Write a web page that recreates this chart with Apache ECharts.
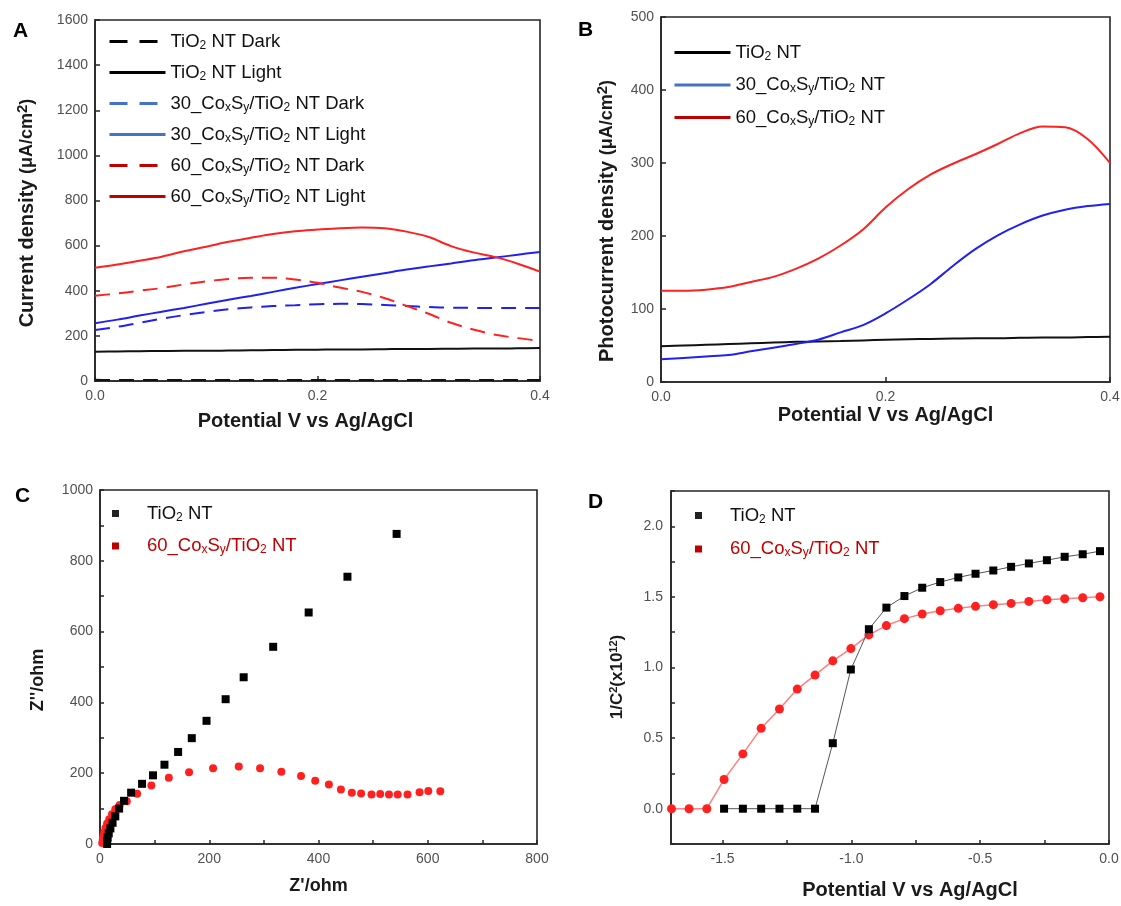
<!DOCTYPE html>
<html><head><meta charset="utf-8">
<script src="https://cdn.jsdelivr.net/npm/echarts@6/dist/echarts.min.js"></script>
<style>html,body{margin:0;padding:0;background:#fff}#c{width:1121px;height:906px}</style>
</head><body><div id="c"></div>
<script>
// ---------- Panel A : current density (dark / light) ----------
const potentialA = [0,0.02,0.04,0.06,0.08,0.10,0.12,0.14,0.16,0.18,0.20,0.22,0.24,0.26,0.28,0.30,0.32,0.34,0.36,0.38,0.40];
const tio2DarkA  = [6,4,4,4,4,4,4,4,4,4,4,4,4,4,4,4,4,4,4,4,4];
const tio2LightA = [130,131,132,133,134,134,135,136,137,138,139,140,140,141,142,142,143,144,144,145,146];
const co30DarkA  = [226,240,258,276,292,306,318,326,332,336,340,342,341,337,332,328,325,324,323,323,323];
const co30LightA = [256,272,290,307,324,342,360,377,395,413,430,446,462,478,494,508,521,535,547,560,572];
const co60DarkA  = [378,388,400,412,428,442,452,458,458,450,435,414,395,368,333,298,258,228,205,190,178];
const co60LightA = [502,516,533,551,575,595,617,635,652,664,671,677,680,677,662,638,598,570,549,520,485];
const xTicksA = [0,0.2,0.4];
const yTicksA = [0,200,400,600,800,1000,1200,1400,1600];

// ---------- Panel B : photocurrent density ----------
const potentialB = [0,0.02,0.04,0.06,0.08,0.10,0.12,0.14,0.16,0.18,0.20,0.22,0.24,0.26,0.28,0.30,0.32,0.34,0.36,0.38,0.40];
const tio2B = [49,50,51,52,53,54,55,55.5,56,57,58,58.5,59,59.5,60,60,60.5,61,61,61.5,62];
const co30B = [31,33,35,37,42,47,52,58,68,78,94,113,134,159,182,201,216,228,236,241,244];
const co60B = [125,125,126.5,130,137,144,155,169,187,209,239,264,284,299,312,326,341,350,349,333,300];
const xTicksB = [0,0.2,0.4];
const yTicksB = [0,100,200,300,400,500];

// ---------- Panel C : Nyquist ----------
const tio2ZreC = [13,13,14,16,19,23,28,35,44,57,77,97,118,143,168,195,230,263,317,382,453,543];
const tio2ZimC = [0,8,18,30,44,60,78,100,122,145,170,194,224,260,299,348,409,471,557,654,755,876];
const co60ZreC = [4,5,6,8,10,13,17,22,28,36,49,68,94,126,163,207,254,293,332,368,394,419,441,461,478,497,513,529,545,563,585,601,623];
const co60ZimC = [3,12,22,33,45,58,70,84,98,110,121,142,165,187,203,214,219,214,204,192,179,168,154,145,143,140,141,140,140,140,146,150,149];
const xTicksC = [0,100,200,300,400,500,600,700,800];
const xLabelsC = [0,200,400,600,800];
const yTicksC = [0,100,200,300,400,500,600,700,800,900,1000];
const yLabelsC = [0,200,400,600,800,1000];

// ---------- Panel D : Mott-Schottky ----------
const potentialD_tio2 = [-1.494,-1.421,-1.350,-1.279,-1.210,-1.141,-1.072,-1.002,-0.932,-0.864,-0.794,-0.725,-0.655,-0.585,-0.518,-0.449,-0.380,-0.311,-0.241,-0.172,-0.102,-0.035];
const tio2D = [0,0,0,0,0,0,0.464,0.986,1.271,1.424,1.506,1.565,1.605,1.638,1.664,1.687,1.713,1.737,1.760,1.784,1.802,1.824];
const potentialD_co60 = [-1.698,-1.630,-1.561,-1.494,-1.421,-1.350,-1.279,-1.210,-1.141,-1.072,-1.002,-0.932,-0.864,-0.794,-0.725,-0.655,-0.585,-0.518,-0.449,-0.380,-0.311,-0.241,-0.172,-0.102,-0.035];
const co60D = [0,0,0,0.207,0.388,0.569,0.706,0.847,0.946,1.047,1.134,1.231,1.297,1.346,1.379,1.402,1.419,1.433,1.445,1.454,1.468,1.480,1.487,1.494,1.501];
const xTicksD = [-1.5,-1.25,-1.0,-0.75,-0.5,-0.25,0];
const xLabelsD = [-1.5,-1.0,-0.5,0];
const yTicksD = [-0.25,0,0.25,0.5,0.75,1.0,1.25,1.5,1.75,2.0,2.25];
const yLabelsD = [0,0.5,1.0,1.5,2.0];

// ---------- helpers ----------
const F = "'Liberation Sans', Arial, Helvetica, sans-serif";
const pairs = (xs, ys) => xs.map((x, i) => [x, ys[i]]);
const BLACK = '#111', BLUE = '#2020f2', RED = '#ff2020';
const FRAME = '#262626';

function richName(name) {
  const base = name.split('#')[0];
  return '{n|' + base.replace(/TiO2/g, 'TiO}{s|2}{n|').replace(/CoxSy/g, 'Co}{s|x}{n|S}{s|y}{n|') + '}';
}
function richNameSp(name) { return '{sp| }' + richName(name); }
const legendRich = {
  n: { fontSize: 18.5, fontFamily: F },
  s: { fontSize: 12, fontFamily: F, padding: [8, 0, 0, 0] },
  sp: { fontSize: 18, fontFamily: F, width: 23 }
};

const grids = [
  { left: 95, top: 20, width: 445, height: 361 },
  { left: 661, top: 17, width: 449, height: 365 },
  { left: 100, top: 490, width: 437, height: 354 },
  { left: 671, top: 491, width: 438, height: 353 }
].map(g => Object.assign(g, { show: true, borderColor: FRAME, borderWidth: 1.6, containLabel: false, outerBoundsMode: 'none' }));

function axisBase(extra) {
  return Object.assign({
    type: 'value',
    splitLine: { show: false },
    axisLine: { show: true, onZero: false, lineStyle: { color: FRAME, width: 1.6 } },
    nameTextStyle: { fontFamily: F, fontSize: 20, fontWeight: 'bold', color: '#1a1a1a' },
    nameLocation: 'middle'
  }, extra);
}
function ticks(vals, len) {
  return { show: true, inside: true, length: len || 5, customValues: vals, lineStyle: { color: FRAME, width: 1.5 } };
}
function labels(vals, formatter, margin) {
  return { fontFamily: F, fontSize: 14, color: '#505050', margin: margin || 8, customValues: vals, formatter: formatter };
}
const fmt1 = v => Number(v).toFixed(1);
const fmt0 = v => String(Math.round(v));

const xAxes = [
  axisBase({ gridIndex: 0, min: 0, max: 0.4, interval: 0.2, axisTick: ticks(xTicksA), axisLabel: labels(xTicksA, fmt1),
    name: 'Potential V vs Ag/AgCl', nameGap: 30,
    nameTextStyle: { fontFamily: F, fontSize: 20, fontWeight: 'bold', color: '#1a1a1a', padding: [0, 24, 0, 0] } }),
  axisBase({ gridIndex: 1, min: 0, max: 0.4, interval: 0.2, axisTick: ticks(xTicksB), axisLabel: labels(xTicksB, fmt1),
    name: 'Potential V vs Ag/AgCl', nameGap: 23 }),
  axisBase({ gridIndex: 2, min: 0, max: 800, interval: 100, axisTick: ticks(xTicksC, 4), axisLabel: labels(xLabelsC, fmt0),
    name: "Z'/ohm", nameGap: 33,
    nameTextStyle: { fontFamily: F, fontSize: 18, fontWeight: 'bold', color: '#1a1a1a' } }),
  axisBase({ gridIndex: 3, min: -1.7, max: 0, axisTick: ticks(xTicksD, 4), axisLabel: labels(xLabelsD, fmt1),
    name: 'Potential V vs Ag/AgCl', nameGap: 36,
    nameTextStyle: { fontFamily: F, fontSize: 20, fontWeight: 'bold', color: '#1a1a1a', padding: [0, 0, 0, 40] } })
];

const unitRich = {
  b: { fontFamily: F, fontSize: 20, fontWeight: 'bold', color: '#1a1a1a' },
  u: { fontFamily: F, fontSize: 18, fontWeight: 'bold', color: '#1a1a1a' },
  sup: { fontFamily: F, fontSize: 15, fontWeight: 'bold', color: '#1a1a1a', padding: [0, 0, 9, 0] },
  b2: { fontFamily: F, fontSize: 17, fontWeight: 'bold', color: '#1a1a1a' },
  sup2: { fontFamily: F, fontSize: 11, fontWeight: 'bold', color: '#1a1a1a', padding: [0, 0, 8, 0] }
};

const yAxes = [
  axisBase({ gridIndex: 0, min: 0, max: 1600, interval: 200, axisTick: ticks(yTicksA), axisLabel: labels(yTicksA, fmt0, 7),
    name: '{b|Current density }{u|(μA/cm}{sup|2}{u|)}', nameGap: 56,
    nameTextStyle: { rich: unitRich, padding: [0, 25, 0, 0] } }),
  axisBase({ gridIndex: 1, min: 0, max: 500, interval: 100, axisTick: ticks(yTicksB), axisLabel: labels(yTicksB, fmt0, 7),
    name: '{b|Photocurrent density }{u|(μA/cm}{sup|2}{u|)}', nameGap: 42,
    nameTextStyle: { rich: unitRich, padding: [0, 43, 0, 0] } }),
  axisBase({ gridIndex: 2, min: 0, max: 1000, interval: 100, axisTick: ticks(yTicksC, 4), axisLabel: labels(yLabelsC, fmt0, 7),
    name: "Z''/ohm", nameGap: 53,
    nameTextStyle: { fontFamily: F, fontSize: 18, fontWeight: 'bold', color: '#1a1a1a', padding: [0, 26, 0, 0] } }),
  axisBase({ gridIndex: 3, min: -0.25, max: 2.25, interval: 0.25, axisTick: ticks(yTicksD, 4), axisLabel: labels(yLabelsD, fmt1, 8),
    name: '{b2|1/C}{sup2|2}{b2|(x10}{sup2|12}{b2|)}', nameGap: 44,
    nameTextStyle: { rich: unitRich, padding: [0, 19, 0, 0] } })
];

function lineSeries(name, gi, xs, ys, color, dashed) {
  return {
    type: 'line', name, xAxisIndex: gi, yAxisIndex: gi, data: pairs(xs, ys),
    showSymbol: false, symbol: 'none', smooth: 0.35, silent: true,
    lineStyle: { color, width: 2, type: dashed ? [15, 9] : 'solid' },
    itemStyle: { color }
  };
}

const series = [
  lineSeries('TiO2 NT Dark', 0, potentialA, tio2DarkA, BLACK, true),
  lineSeries('TiO2 NT Light', 0, potentialA, tio2LightA, BLACK, false),
  lineSeries('30_CoxSy/TiO2 NT Dark', 0, potentialA, co30DarkA, BLUE, true),
  lineSeries('30_CoxSy/TiO2 NT Light', 0, potentialA, co30LightA, BLUE, false),
  lineSeries('60_CoxSy/TiO2 NT Dark', 0, potentialA, co60DarkA, RED, true),
  lineSeries('60_CoxSy/TiO2 NT Light', 0, potentialA, co60LightA, RED, false),
  lineSeries('TiO2 NT', 1, potentialB, tio2B, BLACK, false),
  lineSeries('30_CoxSy/TiO2 NT', 1, potentialB, co30B, BLUE, false),
  lineSeries('60_CoxSy/TiO2 NT', 1, potentialB, co60B, RED, false),
  { type: 'scatter', name: 'TiO2 NT#C', xAxisIndex: 2, yAxisIndex: 2, data: pairs(tio2ZreC, tio2ZimC),
    symbol: 'rect', symbolSize: 8, itemStyle: { color: '#000', opacity: 1 }, silent: true, z: 3 },
  { type: 'scatter', name: '60_CoxSy/TiO2 NT#C', xAxisIndex: 2, yAxisIndex: 2, data: pairs(co60ZreC, co60ZimC),
    symbol: 'circle', symbolSize: 8, itemStyle: { color: RED, opacity: 1 }, silent: true, z: 2 },
  { type: 'line', name: 'TiO2 NT#D', xAxisIndex: 3, yAxisIndex: 3, data: pairs(potentialD_tio2, tio2D),
    symbol: 'rect', symbolSize: 8, showSymbol: true, clip: false, silent: true,
    itemStyle: { color: '#000' }, lineStyle: { color: '#555', width: 1 }, z: 3 },
  { type: 'line', name: '60_CoxSy/TiO2 NT#D', xAxisIndex: 3, yAxisIndex: 3, data: pairs(potentialD_co60, co60D),
    symbol: 'circle', symbolSize: 9, showSymbol: true, clip: false, silent: true,
    itemStyle: { color: RED }, lineStyle: { color: '#ff8080', width: 1.5 }, z: 2 }
];

function lineLegendItem(name, color, dashed) {
  return { name, itemStyle: { opacity: 0 }, lineStyle: { color, width: 3, type: dashed ? [18, 12] : 'solid', opacity: 1 } };
}
const legendText = { fontFamily: F, fontSize: 18.5, color: '#111', rich: legendRich };
const legends = [
  { orient: 'vertical', left: 108, top: 32, padding: 0, itemWidth: 56, itemHeight: 14, itemGap: 11.5, selectedMode: false,
    formatter: richName, textStyle: legendText,
    data: [
      lineLegendItem('TiO2 NT Dark', '#000', true),
      lineLegendItem('TiO2 NT Light', '#000', false),
      lineLegendItem('30_CoxSy/TiO2 NT Dark', '#4472c4', true),
      lineLegendItem('30_CoxSy/TiO2 NT Light', '#4472c4', false),
      lineLegendItem('60_CoxSy/TiO2 NT Dark', '#c00000', true),
      lineLegendItem('60_CoxSy/TiO2 NT Light', '#c00000', false)
    ] },
  { orient: 'vertical', left: 673, top: 43, padding: 0, itemWidth: 56, itemHeight: 14, itemGap: 13, selectedMode: false,
    formatter: richName, textStyle: legendText,
    data: [
      lineLegendItem('TiO2 NT', '#000', false),
      lineLegendItem('30_CoxSy/TiO2 NT', '#4472c4', false),
      lineLegendItem('60_CoxSy/TiO2 NT', '#c00000', false)
    ] },
  { orient: 'vertical', left: 112, top: 504, padding: 0, itemWidth: 7, itemHeight: 7, itemGap: 13, selectedMode: false,
    icon: 'rect', formatter: richNameSp, textStyle: legendText,
    data: [
      { name: 'TiO2 NT#C', icon: 'rect', itemStyle: { color: '#222' } },
      { name: '60_CoxSy/TiO2 NT#C', icon: 'rect', itemStyle: { color: '#c00000' }, textStyle: { color: '#c00000' } }
    ] },
  { orient: 'vertical', left: 695, top: 506, padding: 0, itemWidth: 7, itemHeight: 7, itemGap: 14, selectedMode: false,
    icon: 'rect', formatter: richNameSp, textStyle: legendText,
    data: [
      { name: 'TiO2 NT#D', icon: 'rect', itemStyle: { color: '#222' }, lineStyle: { opacity: 0 } },
      { name: '60_CoxSy/TiO2 NT#D', icon: 'rect', itemStyle: { color: '#c00000' }, lineStyle: { opacity: 0 }, textStyle: { color: '#c00000' } }
    ] }
];

const titleStyle = { fontFamily: F, fontSize: 21, fontWeight: 'bold', color: '#000' };
const titles = [
  { text: 'A', left: 13, top: 21 },
  { text: 'B', left: 578, top: 20 },
  { text: 'C', left: 15, top: 486 },
  { text: 'D', left: 588, top: 492 }
].map(t => Object.assign(t, { padding: 0, textStyle: titleStyle }));

const chart = echarts.init(document.getElementById('c'), null, { renderer: 'canvas' });
chart.setOption({
  backgroundColor: '#fff',
  animation: false,
  title: titles,
  grid: grids,
  xAxis: xAxes,
  yAxis: yAxes,
  legend: legends,
  series: series
});
</script></body></html>
